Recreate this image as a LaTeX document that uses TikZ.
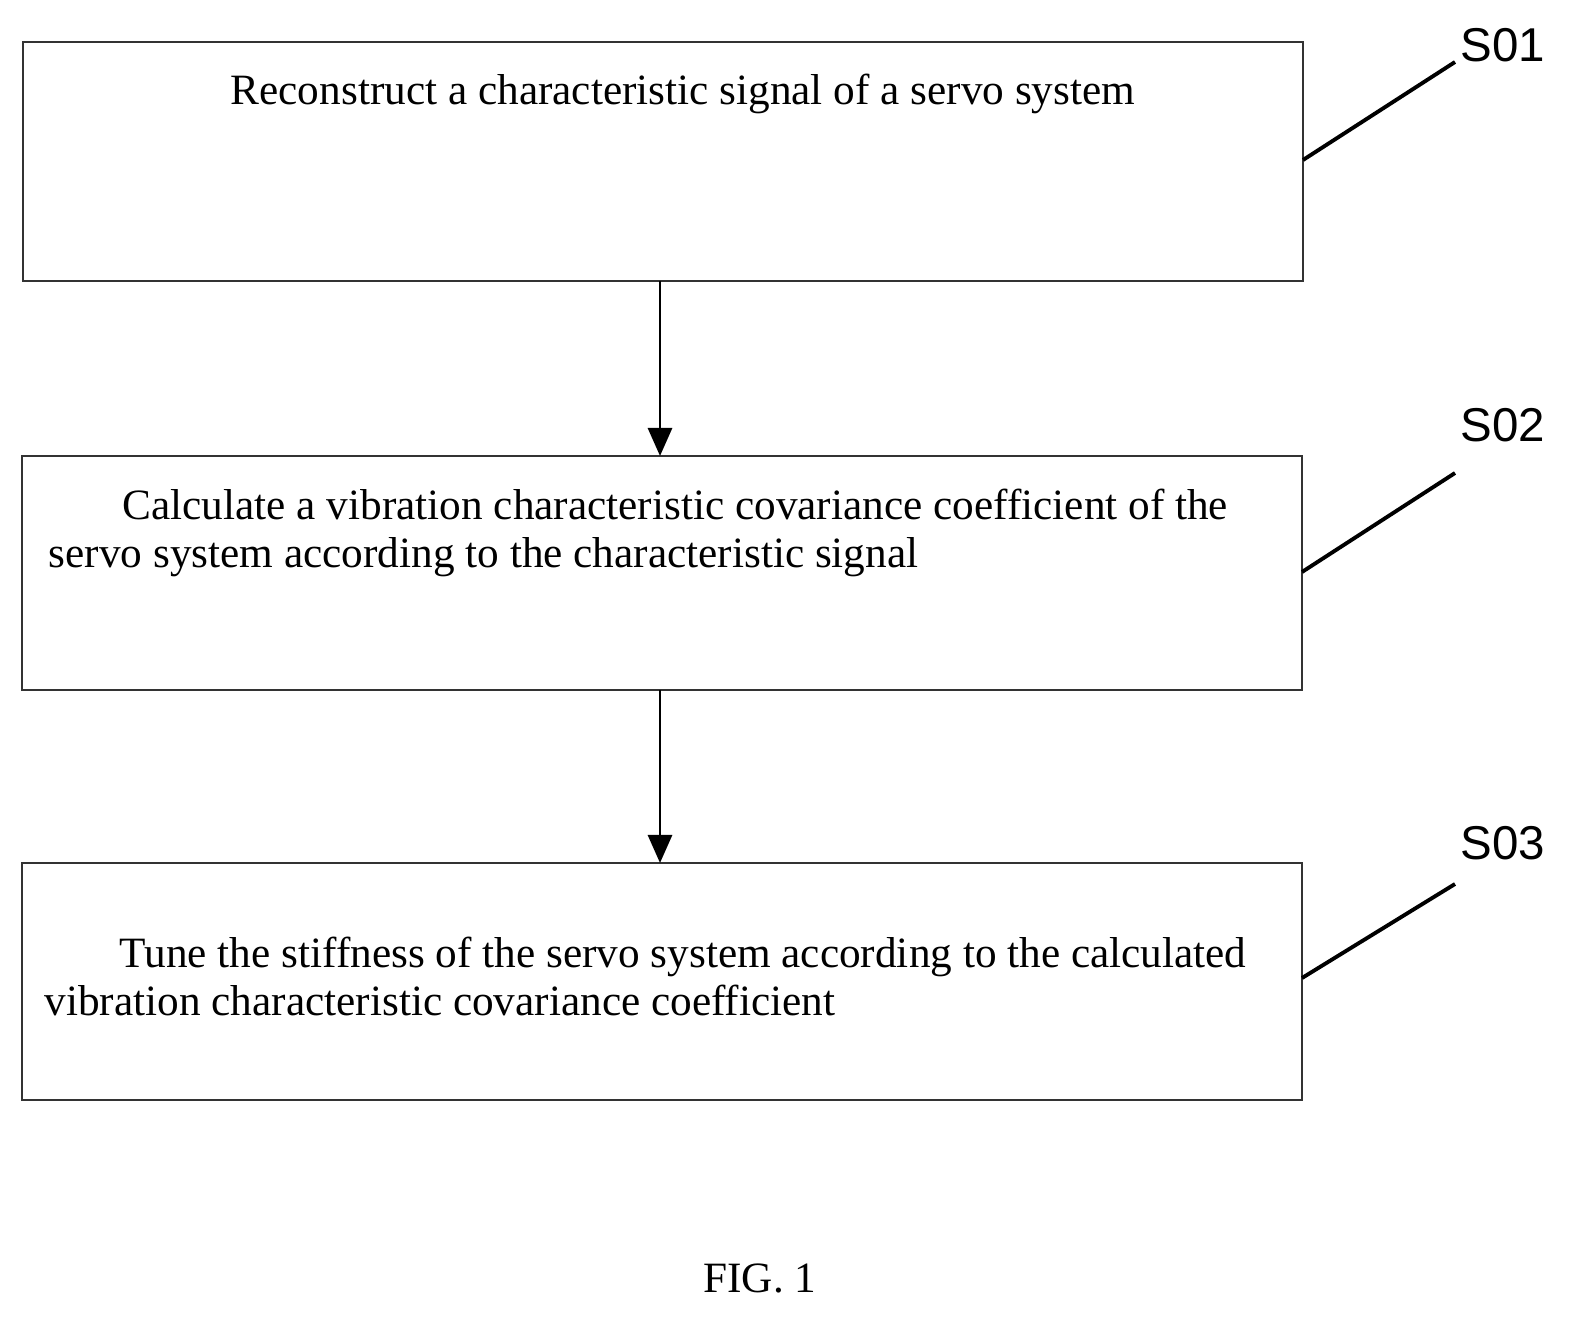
\documentclass[tikz,border=0pt]{standalone}
\usepackage{fontspec}
\setmainfont{Liberation Serif}
\newfontfamily\lab{Liberation Sans}
\usetikzlibrary{arrows.meta}
\begin{document}
\begin{tikzpicture}[x=0.01cm,y=-0.01cm,
  box/.style={draw=black!80,line width=0.8pt},
  txt/.style={font=\fontsize{12.3pt}{14pt}\selectfont,anchor=base west,inner sep=0},
  lab/.style={font=\lab\fontsize{13.5pt}{16pt}\selectfont,anchor=center},
  arr/.style={-{Triangle[length=0.28cm,width=0.24cm]},line width=0.8pt},
  lead/.style={line width=1.1pt}]
\useasboundingbox (0,0) rectangle (1585,1328);
\draw[box] (23,42) rectangle (1303,281);
\draw[box] (22,456) rectangle (1302,690);
\draw[box] (22,863) rectangle (1302,1100);
\node[txt] (t1) at (230,105) {Reconstruct a characteristic signal of a servo system};
\node[txt] (t2a) at (122,520) {Calculate a vibration characteristic covariance coefficient of the};
\node[txt] (t2b) at (48,568) {servo system according to the characteristic signal};
\node[txt] (t3a) at (119,967) {Tune the stiffness of the servo system according to the calculated};
\node[txt] (t3b) at (44,1015) {vibration characteristic covariance coefficient};
\coordinate (a1) at (660,281); \coordinate (b1) at (660,456);
\coordinate (a2) at (660,690); \coordinate (b2) at (660,863);
\draw[arr] (a1) -- (b1);
\draw[arr] (a2) -- (b2);
\node[lab] (s1) at (1503,45) {S01};
\node[lab] (s2) at (1503,425) {S02};
\node[lab] (s3) at (1503,843) {S03};
\coordinate (l1a) at (1303,160); \coordinate (l1b) at (1455,62);
\coordinate (l2a) at (1302,572); \coordinate (l2b) at (1455,473);
\coordinate (l3a) at (1302,978); \coordinate (l3b) at (1455,884);
\draw[lead] (l1a) -- (l1b);
\draw[lead] (l2a) -- (l2b);
\draw[lead] (l3a) -- (l3b);
\node[font=\fontsize{12.3pt}{14pt}\selectfont] (fig) at (760,1278) {FIG. 1};
\end{tikzpicture}
\end{document}
